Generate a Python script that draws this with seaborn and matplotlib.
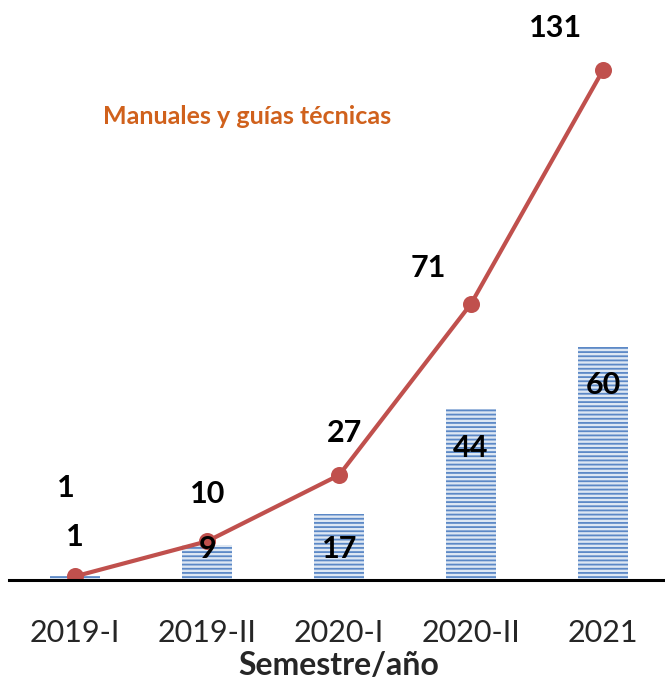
import numpy as np
import pandas as pd
import matplotlib
matplotlib.use("Agg")
import matplotlib.pyplot as plt
import seaborn as sns

# data
semesters = ["2019-I", "2019-II", "2020-I", "2020-II", "2021"]
per_semester = [1, 9, 17, 44, 60]
cumulative = [1, 10, 27, 71, 131]
series_name = "Manuales y guías técnicas"

df = pd.DataFrame({"semestre": semesters, "n": per_semester, "acum": cumulative})

sns.set_style("white")
plt.rcParams["font.family"] = ["Lato", "DejaVu Sans"]
plt.rcParams["hatch.linewidth"] = 1.3

fig = plt.figure(figsize=(6.65, 6.85), dpi=100)
ax = fig.add_axes([0.014, 0.153, 0.992, 0.847])

sns.barplot(data=df, x="semestre", y="n", order=semesters, width=0.38,
            color="#dde7f3", saturation=1, ax=ax)
for p in ax.patches:
    p.set_hatch("----")
    p.set_edgecolor("#5b88c6")
    p.set_linewidth(0)

sns.pointplot(data=df, x="semestre", y="acum", order=semesters,
              color="#c0504d", markers="o", markersize=10, linewidth=3,
              ax=ax)

# bar labels inside the bars (small bars: label near the bottom)
for i, v in enumerate(per_semester):
    if v > 20:
        y = v - 10
    elif v > 5:
        y = 8
    else:
        y = v + 10
    ax.text(i, y, str(v), ha="center", va="center",
            fontsize=22, fontweight="bold", color="black")

# cumulative labels above the line
offsets = [(-9, 88), (0, 47), (5, 42), (-43, 36), (-48, 42)]
for i, (v, off) in enumerate(zip(cumulative, offsets)):
    ax.annotate(str(v), (i, v), xytext=(off[0] * 0.72, off[1] * 0.72),
                textcoords="offset points", ha="center", va="center",
                fontsize=22, fontweight="bold", color="black")

ax.text(0.36, 0.80, series_name, transform=ax.transAxes, ha="center",
        va="center", fontsize=18, fontweight="bold", color="#d0611c")

ax.set_ylim(0, 149)
ax.set_xlim(-0.5, 4.5)
ax.set_yticks([])
ax.set_ylabel("")
ax.set_xlabel("Semestre/año", fontsize=23, fontweight="bold", labelpad=3)
ax.tick_params(axis="x", labelsize=22, length=0, pad=28)
for s in ["top", "left", "right"]:
    ax.spines[s].set_visible(False)
ax.spines["bottom"].set_color("black")
ax.spines["bottom"].set_linewidth(2.2)

fig.savefig("out.png", dpi=100)
